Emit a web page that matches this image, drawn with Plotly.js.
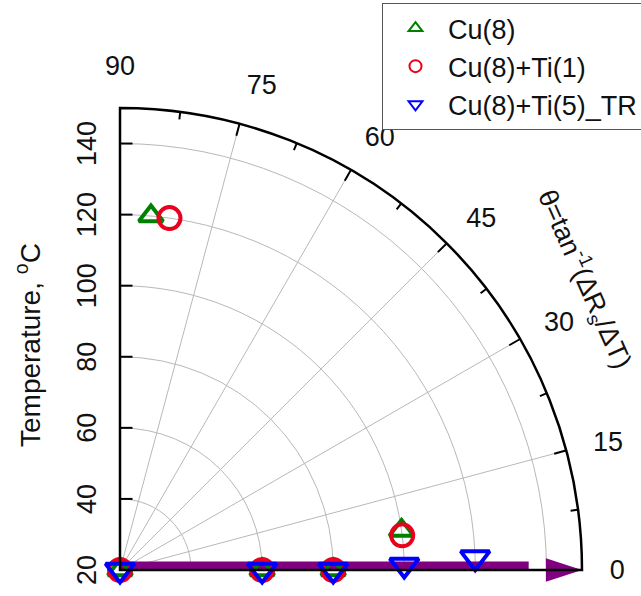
<!DOCTYPE html>
<html><head><meta charset="utf-8">
<script src="https://cdn.plot.ly/plotly-3.0.1.min.js"></script>
<style>html,body{margin:0;padding:0;background:#fff}#chart{width:641px;height:596px}</style>
</head><body><div id="chart"></div>
<script>
const seriesNames = ['Cu(8)', 'Cu(8)+Ti(1)', 'Cu(8)+Ti(5)_TR'];
const cuR = [20, 60, 80, 100, 120];
const cuTheta = [0, 0, 0, 8, 85];
const cuTi1R = [20, 60, 80, 100, 120];
const cuTi1Theta = [0, 0, 0, 7, 82];
const cuTi5R = [20, 60, 80, 100, 120];
const cuTi5Theta = [0, 0, 0, 1, 2];
const arrowR = [20, 135];
const arrowTheta = [0, 0];
const arrowHeadR = [150];
const arrowHeadTheta = [0];
const radialTicks = [20, 40, 60, 80, 100, 120, 140];
const angularTicks = [0, 15, 30, 45, 60, 75, 90];
const angularInnerTicks = [15, 30, 45, 60, 75];
const angularMinorTicks = [7.5, 22.5, 37.5, 52.5, 67.5, 82.5];
const radialRange = [20, 150];

const FONT = 'Arial, "Liberation Sans", sans-serif';
const W = 641, H = 596;
const dom = {x: [120 / W, 582 / W], y: [(H - 570) / H, (H - 108) / H]};

const traces = [
  {type: 'scatterpolar', r: arrowR, theta: arrowTheta, mode: 'lines', showlegend: false, cliponaxis: false,
   line: {color: '#800080', width: 17}, hoverinfo: 'skip'},
  {type: 'scatterpolar', r: arrowHeadR, theta: arrowHeadTheta, mode: 'markers', showlegend: false, cliponaxis: false,
   marker: {symbol: 'arrow', angle: 90, size: 38, color: '#800080', line: {width: 0}}, hoverinfo: 'skip'},
  {type: 'scatterpolar', name: seriesNames[0], r: cuR, theta: cuTheta, mode: 'markers', cliponaxis: false,
   marker: {symbol: 'triangle-up-open', size: 21, color: '#008000', line: {width: 4, color: '#008000'}}},
  {type: 'scatterpolar', name: seriesNames[1], r: cuTi1R, theta: cuTi1Theta, mode: 'markers', cliponaxis: false,
   marker: {symbol: 'circle-open', size: 22, color: '#e8001c', line: {width: 4, color: '#e8001c'}}},
  {type: 'scatterpolar', name: seriesNames[2], r: cuTi5R, theta: cuTi5Theta, mode: 'markers', cliponaxis: false,
   marker: {symbol: 'triangle-down-open', size: 25, color: '#0000ff', line: {width: 4, color: '#0000ff'}}},
  {type: 'scatterpolar', r: [], theta: [], subplot: 'polar2', showlegend: false, hoverinfo: 'skip'},
  {type: 'scatterpolar', r: [], theta: [], subplot: 'polar3', showlegend: false, hoverinfo: 'skip'}
];

const layout = {
  width: W, height: H,
  margin: {l: 0, r: 0, t: 0, b: 0, autoexpand: false},
  paper_bgcolor: '#ffffff',
  font: {family: FONT, color: '#111111', size: 27},
  showlegend: true,
  legend: {x: 382 / W, y: 1 - 3 / H, xanchor: 'left', yanchor: 'top', bgcolor: '#ffffff',
           bordercolor: '#555555', borderwidth: 1, font: {family: FONT, size: 27, color: '#111111'},
           itemsizing: 'constant', itemwidth: 55, tracegroupgap: 0},
  polar: {
    domain: dom, sector: [0, 90], bgcolor: 'rgba(0,0,0,0)',
    radialaxis: {range: radialRange, angle: 90, side: 'counterclockwise', tickvals: radialTicks,
                 ticks: 'outside', ticklen: 12, tickcolor: 'rgba(0,0,0,0)', showline: true,
                 linecolor: '#000000', linewidth: 2, gridcolor: '#b8b8b8', gridwidth: 1,
                 tickfont: {family: FONT, size: 27, color: '#111111'}},
    angularaxis: {direction: 'counterclockwise', rotation: 0, tickvals: angularTicks,
                  ticks: 'outside', ticklen: 21, tickcolor: 'rgba(0,0,0,0)', showline: true,
                  linecolor: '#000000', linewidth: 2.5, gridcolor: '#b8b8b8', gridwidth: 1,
                  tickfont: {family: FONT, size: 27, color: '#111111'}}
  },
  polar2: {
    domain: dom, sector: [0, 90], bgcolor: 'rgba(0,0,0,0)',
    radialaxis: {range: radialRange, angle: 90, side: 'counterclockwise', tickvals: radialTicks,
                 ticks: 'inside', ticklen: 12, tickwidth: 2, tickcolor: '#000000',
                 showticklabels: false, showline: false, showgrid: false},
    angularaxis: {direction: 'counterclockwise', rotation: 0, tickvals: angularInnerTicks,
                  ticks: 'inside', ticklen: 12, tickwidth: 2, tickcolor: '#000000',
                  showticklabels: false, showline: false, showgrid: false}
  },
  polar3: {
    domain: dom, sector: [0, 90], bgcolor: 'rgba(0,0,0,0)',
    radialaxis: {range: radialRange, visible: false},
    angularaxis: {direction: 'counterclockwise', rotation: 0, tickvals: angularMinorTicks,
                  ticks: 'inside', ticklen: 7, tickwidth: 2, tickcolor: '#000000',
                  showticklabels: false, showline: false, showgrid: false}
  },
  annotations: [
    {xref: 'paper', yref: 'paper', x: 28 / W, y: 1 - 345 / H, xanchor: 'center', yanchor: 'middle',
     showarrow: false, textangle: -90,
     text: 'Temperature, <sup>o</sup>C', font: {family: FONT, size: 28, color: '#111111'}},
    {xref: 'paper', yref: 'paper', x: 585 / W, y: 1 - 279 / H, xanchor: 'center', yanchor: 'middle',
     showarrow: false, textangle: 66,
     text: 'θ=tan<sup>-1</sup>(ΔR<sub>s</sub>/ΔT)', font: {family: FONT, size: 27, color: '#111111'}}
  ]
};

Plotly.newPlot('chart', traces, layout, {displayModeBar: false, staticPlot: true});
</script>
</body></html>
